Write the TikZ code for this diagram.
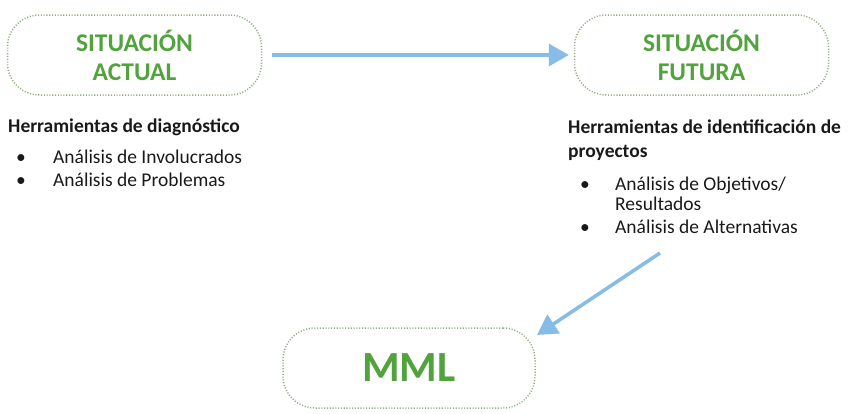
\documentclass[tikz,border=0pt]{standalone}
\usepackage{fontspec}
\setmainfont{Carlito}
\usetikzlibrary{arrows.meta}
\definecolor{sitgreen}{RGB}{82,162,62}
\definecolor{sitborder}{RGB}{145,175,135}
\definecolor{flowblue}{RGB}{135,188,230}
\definecolor{txtgray}{RGB}{25,25,25}

\begin{document}
\begin{tikzpicture}[x=1pt, y=-1pt,
    sit/.style={draw=sitborder, dash pattern=on 1.1pt off 1.7pt, line width=1.5pt, rounded corners=32pt,
        minimum width=254pt, minimum height=80pt, align=center,
        text=sitgreen, font=\fontsize{25.5}{29}\selectfont\bfseries},
    head/.style={anchor=base west, text=txtgray, align=left, inner sep=0pt,
        font=\fontsize{19.5}{24}\selectfont\bfseries},
    itm/.style={anchor=base west, text=txtgray, align=left, inner sep=0pt,
        font=\fontsize{19.5}{20}\selectfont},
    flow/.style={draw=flowblue, line width=3.5pt, -{Triangle[length=20pt, width=22pt]}}]
    \useasboundingbox (0,0) rectangle (850,413);
    \node[sit] (actual) at (134.5,55) {SITUACIÓN\\ACTUAL};
    \node[sit] (futura) at (701.5,55) {SITUACIÓN\\FUTURA};
    \node[sit, minimum width=252pt, font=\fontsize{43}{50}\selectfont\bfseries] (mml) at (409,368) {MML};
    \coordinate (f0) at (660,253);
    \coordinate (f1) at (537,335);
    \draw[flow] (actual.east) ++(10pt,0) -- ([xshift=-5pt]futura.west);
    \draw[flow] (f0) -- (f1);
    \node[head] (diag) at (8,132) {Herramientas de diagnóstico};
    \node[itm] (inv) at (16,163) {\makebox[37pt][l]{\textbullet}Análisis de Involucrados};
    \node[itm] (prob) at (16,186) {\makebox[37pt][l]{\textbullet}Análisis de Problemas};
    \node[head] (ident) at (568,157) {Herramientas de identificación de\\proyectos};
    \node[itm] (obj) at (580,210) {\makebox[35pt][l]{\textbullet}Análisis de Objetivos/\\\hspace*{35pt}Resultados};
    \node[itm] (alt) at (580,233) {\makebox[35pt][l]{\textbullet}Análisis de Alternativas};
\end{tikzpicture}
\end{document}
